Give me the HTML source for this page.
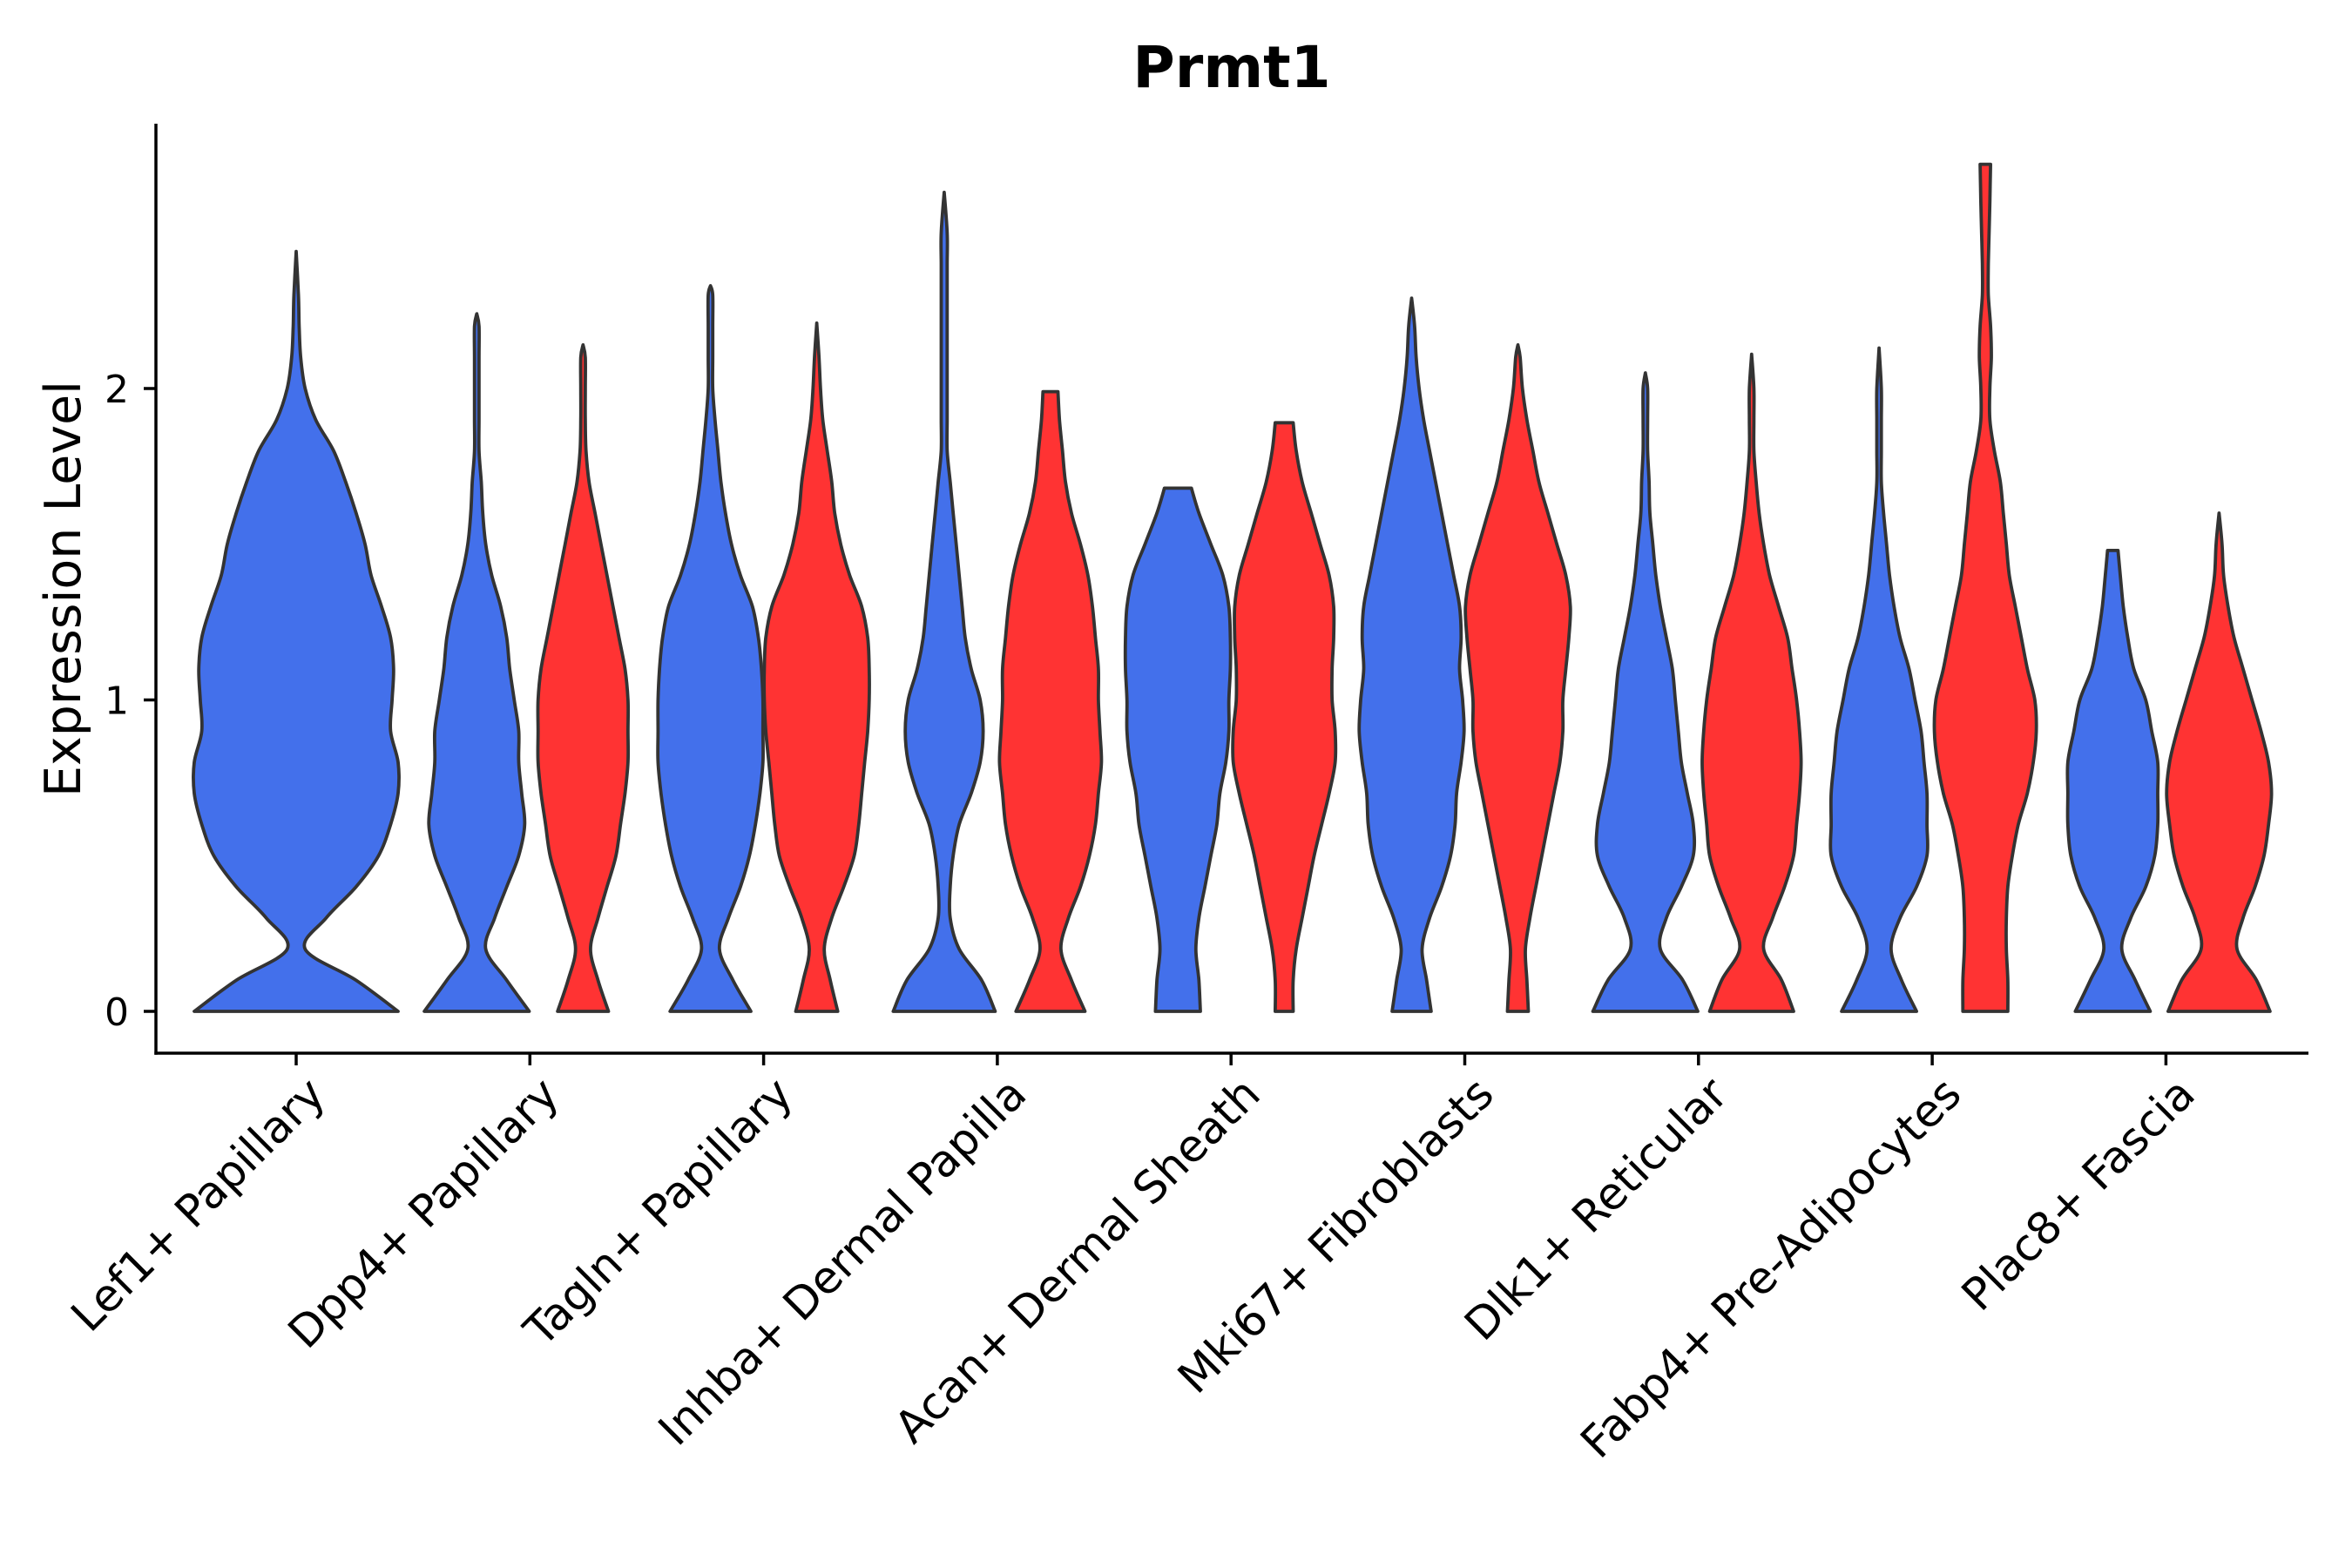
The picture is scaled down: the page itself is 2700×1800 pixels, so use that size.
<!DOCTYPE html>
<html><head><meta charset="utf-8"><style>
html,body{margin:0;padding:0;background:#fff;}
svg{display:block;font-family:"DejaVu Sans","Liberation Sans",sans-serif;}
</style></head><body>
<svg id="chart" width="2700" height="1800" viewBox="0 0 2700 1800" xmlns="http://www.w3.org/2000/svg">
<text x="1414" y="100" font-size="66" font-weight="bold" text-anchor="middle">Prmt1</text>
<text transform="translate(92,676) rotate(-90)" font-size="57" text-anchor="middle">Expression Level</text>
<g id="violins"></g>
<g id="axes"></g>
</svg>
<script>
const categories = ["Lef1+ Papillary","Dpp4+ Papillary","Tagln+ Papillary","Inhba+ Dermal Papilla","Acan+ Dermal Sheath","Mki67+ Fibroblasts","Dlk1+ Reticular","Fabp4+ Pre-Adipocytes","Plac8+ Fascia"];
const yTicks = [0,1,2];
const yTickLabels = ["0","1","2"];
// violin groups: category index, side (0 = single centered, -1 = blue left, 1 = red right)
const violinCategory = [0,1,1,2,2,3,3,4,4,5,5,6,6,7,7,8,8];
const violinSide = [0,-1,1,-1,1,-1,1,-1,1,-1,1,-1,1,-1,1,-1,1];
// max expression value per violin
const violinMax = [2.44,2.24,2.14,2.33,2.21,2.63,1.99,1.68,1.89,2.29,2.14,2.05,2.11,2.13,2.72,1.48,1.6];
// relative half-widths (density) sampled every 0.1 from 0 up; final point at max
const violinDensity = [
 [68,40,6,20,40,55,63,68,68,63,64,65,63,57,50,46,40,33,25,13,6,3,2,1.5,0],
 [35,20,6,12,20,28,32,30,28,28,25,22,20,16,10,6,4,3,1.5,1.5,1.5,1.5,1.5,0],
 [17,10,5,10,16,22,25,28,30,30,30,28,24,20,16,12,8,4,2,1.5,1.5,1.5,0],
 [27,15,6,12,20,26,30,33,35,35,35,34,32,28,20,14,10,7,5,3,1.5,1.5,1.5,1.5,0],
 [14,9,5,10,18,25,28,30,32,34,35,35,34,30,22,16,12,10,7,4,2.5,1.5,0],
 [34,25,10,4,4,6,10,18,24,26,24,18,14,12,10,8,6,4,2,2,2,2,2,2,2,2,0],
 [23,14,7,12,20,26,30,32,34,33,32,32,30,28,25,20,14,10,8,6,5],
 [15,14,12,14,18,22,26,28,32,34,34,35,35,34,30,22,14,9],
 [6,6,8,12,16,20,25,30,34,34,32,32,33,33,30,24,18,12,8,6],
 [13,10,7,12,20,26,29,30,33,35,34,32,33,32,28,24,20,16,12,8,5,3,2,0],
 [7,6,5,8,12,16,20,24,28,30,30,32,34,35,32,26,20,14,10,6,3,1.5,0],
 [35,25,10,14,24,32,32,28,24,22,20,18,14,10,7,5,3,2.5,1.5,1.5,1.5,0],
 [28,20,8,14,22,28,30,32,33,32,30,27,24,18,12,8,5,3,1.5,1.5,1.5,0],
 [25,15,8,14,25,32,32,32,30,28,24,20,14,10,7,5,3,1.5,1.5,1.5,1.5,0],
 [15,15,14,14,15,18,22,28,32,34,33,28,24,20,16,14,12,10,6,3,3,4,3.5,2,2,2.5,3,3.5],
 [25,15,6,12,22,28,30,30,30,26,22,14,10,7,5,3.5],
 [34,25,12,16,24,30,33,35,33,28,22,16,10,6,3,2,0]
];
const NS="http://www.w3.org/2000/svg";
const X0=179, X1=2650, Y0=1209, YTOP=142;
const catStep=268.3, catStart=340;
function xScale(i){return catStart+i*catStep;}
function yScale(v){return 1161-v*357.5;}
function wScale(d){return d*1.72;}
const sideOffset=61;
const gV=document.getElementById('violins');
function spline(pts){
  let d="";
  for(let i=0;i<pts.length-1;i++){
    const p0=pts[Math.max(0,i-1)],p1=pts[i],p2=pts[i+1],p3=pts[Math.min(pts.length-1,i+2)];
    const c1=[p1[0]+(p2[0]-p0[0])/6,p1[1]+(p2[1]-p0[1])/6];
    const c2=[p2[0]-(p3[0]-p1[0])/6,p2[1]-(p3[1]-p1[1])/6];
    d+=` C${c1[0].toFixed(1)},${c1[1].toFixed(1)} ${c2[0].toFixed(1)},${c2[1].toFixed(1)} ${p2[0].toFixed(1)},${p2[1].toFixed(1)}`;
  }
  return d;
}
for(let k=0;k<violinDensity.length;k++){
  const dens=violinDensity[k], mx=violinMax[k];
  const cx=xScale(violinCategory[k])+violinSide[k]*sideOffset;
  const n=dens.length;
  const ys=dens.map((_,j)=> j===n-1? mx : Math.min(j*0.1,mx));
  const right=dens.map((w,j)=>[cx+wScale(w),yScale(ys[j])]);
  const left=dens.map((w,j)=>[cx-wScale(w),yScale(ys[j])]).reverse();
  let d=`M${left[left.length-1][0].toFixed(1)},${yScale(0).toFixed(1)} L${right[0][0].toFixed(1)},${right[0][1].toFixed(1)}`;
  d+=spline(right);
  d+=` L${left[0][0].toFixed(1)},${left[0][1].toFixed(1)}`;
  d+=spline(left);
  d+=" Z";
  const p=document.createElementNS(NS,'path');
  p.setAttribute('d',d);
  p.setAttribute('fill',violinSide[k]===1?'#FF3333':'#4370EB');
  p.setAttribute('stroke','#333');
  p.setAttribute('stroke-width','3.8');
  p.setAttribute('stroke-linejoin','round');
  
  
  gV.appendChild(p);
}
const gA=document.getElementById('axes');
function line(x1,y1,x2,y2,name){
  const l=document.createElementNS(NS,'line');
  l.setAttribute('x1',x1);l.setAttribute('y1',y1);l.setAttribute('x2',x2);l.setAttribute('y2',y2);
  l.setAttribute('stroke','#000');l.setAttribute('stroke-width','3.5');
  
  
  gA.appendChild(l);
}
line(X0,YTOP,X0,Y0+1.7,'y-axis-line');
line(X0-1.7,Y0,X1,Y0,'x-axis-line');
yTicks.forEach((v,i)=>{
  const y=yScale(v);
  line(X0-14,y,X0,y,'y-tick');
  const t=document.createElementNS(NS,'text');
  t.setAttribute('x',148);t.setAttribute('y',y+16);
  t.setAttribute('font-size','44');t.setAttribute('text-anchor','end');
  t.textContent=yTickLabels[i];
  
  
  gA.appendChild(t);
});
categories.forEach((c,i)=>{
  const x=xScale(i);
  line(x,Y0,x,Y0+14,'x-tick');
  const t=document.createElementNS(NS,'text');
  t.setAttribute('transform',`translate(${x+10},${Y0+24}) rotate(-45)`);
  t.setAttribute('font-size','51');t.setAttribute('text-anchor','end');
  t.setAttribute('dy','0.72em');
  t.textContent=c;
  
  
  gA.appendChild(t);
});
</script>
</body></html>
